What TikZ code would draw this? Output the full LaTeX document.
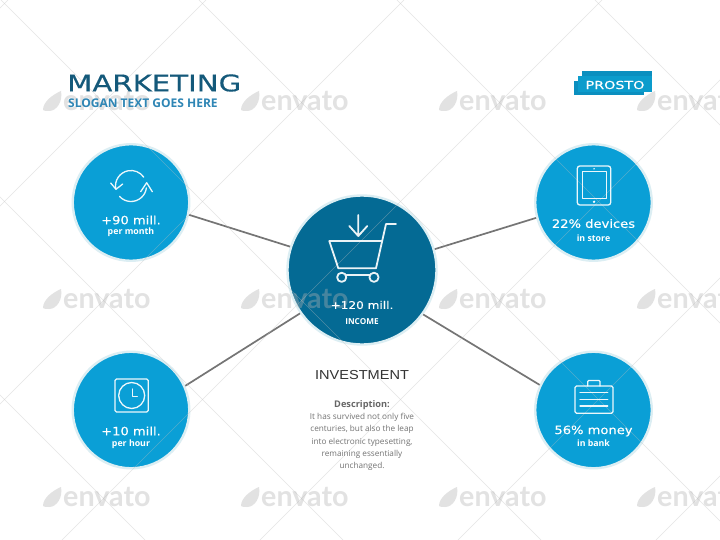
\documentclass[tikz,border=0pt]{standalone}
\usepackage{fontspec}
\setmainfont{Open Sans}
\newfontfamily\titlefont[FakeStretch=1.27,FakeBold=.4]{DejaVu Sans}
\newfontfamily\valfont[FakeStretch=1.14,FakeBold=.3]{DejaVu Sans}
\newfontfamily\badgefont[FakeStretch=1.3,FakeBold=.3]{DejaVu Sans}
\newfontfamily\invfont[FakeStretch=1.12]{Liberation Sans}
\newfontfamily\wmfont{Lato}
\definecolor{cblue}{HTML}{0A9FD6}
\definecolor{cdark}{HTML}{046A94}
\definecolor{cring}{HTML}{DCEEF3}
\definecolor{ctitle}{HTML}{14597A}
\definecolor{cslogan}{HTML}{2F86B5}
\definecolor{cline}{HTML}{757575}
\definecolor{cwm}{HTML}{B3B3B3}
\definecolor{cdiag}{HTML}{BFBFBF}
\definecolor{cband}{HTML}{0B8FBF}
\definecolor{cband2}{HTML}{0C9CCC}
\tikzset{
 x=1pt,y=-1pt,
 small/.style={draw=cring,line width=2.4pt,fill=cblue,circle,inner sep=0pt,minimum size=116.5pt},
 big/.style={draw=cring,line width=2.4pt,fill=cdark,circle,inner sep=0pt,minimum size=149pt},
 link/.style={draw=cline,line width=1.7pt},
 icon/.style={draw=white,line width=1.3pt,line join=round,line cap=round,opacity=.92},
 carticon/.style={icon,line width=1.8pt},
 val/.style={text=white,font=\valfont\fontsize{11.5}{13}\selectfont,inner sep=0pt},
 sub/.style={text=white,font=\bfseries\fontsize{8.8}{10}\selectfont,inner sep=0pt},
 wm/.style={text=cwm,font=\wmfont\bfseries\fontsize{28.7}{29}\selectfont,inner sep=0pt,anchor=west,text opacity=.38},
 diag/.style={draw=cdiag,line width=.5pt,draw opacity=.4}
}
\newcommand{\wmark}[2]{%
 \fill[cwm,fill opacity=.38] (#1+1,#2+9) .. controls (#1+1,#2+1) and (#1+10,#2-6) .. (#1+19,#2-10) .. controls (#1+21,#2) and (#1+15,#2+10) .. (#1+7,#2+10) .. controls (#1+4,#2+10) and (#1+2,#2+10) .. cycle;
 \node[wm] at (#1+21,#2) {envato};
}
\begin{document}
\begin{tikzpicture}
\useasboundingbox (0,0) rectangle (720,540);
\fill[white] (0,0) rectangle (720,540);
% circles
\node[small] (a) at (131,202.5) {};
\node[small] (b) at (593.5,202.5) {};
\node[small] (c) at (131,410) {};
\node[small] (d) at (593.5,410) {};
\node[big] (m) at (362,270) {};
\draw[link] (a.-12.6) -- (m.162.3);
\draw[link] (b.195) -- (m.16);
\draw[link] (c.24.4) -- (m.215);
\draw[link] (d.155.6) -- (m.-36.4);
% watermark diagonals
\foreach \k in {-3,...,6}{
 \draw[diag] (\k*198+1,0) -- ++(540,540);
 \draw[diag] (\k*198+8,0) -- ++(-540,540);
}
% watermarks
\foreach \wx in {42,240,438,636}{\foreach \wy in {101,299,497}{\wmark{\wx}{\wy}}}
% title
\node[anchor=west,inner sep=0pt,text=ctitle,font=\titlefont\fontsize{23}{26}\selectfont] (title) at (67,83) {MARKETING};
\node[anchor=west,inner sep=0pt,text=cslogan,font=\bfseries\fontsize{12}{14}\selectfont] (slogan) at (68,103) {SLOGAN TEXT GOES HERE};
% badge
\fill[cband] (582,71) rectangle (652,92);
\fill[cband] (574,81) rectangle (644,95);
\fill[cband2] (578,76) rectangle (652,92);
\node[text=white,font=\badgefont\fontsize{11}{13}\selectfont,inner sep=0pt] (badge) at (615,85) {PROSTO};
% centre icon
\draw[carticon] (396,224) -- (386,224) -- (376,268.3) -- (338.3,268.3) -- (329.3,241) -- (381.7,241);
\draw[carticon] (341.7,277.3) circle (4.6);
\draw[carticon] (374,277.3) circle (4.6);
\draw[carticon] (346.5,275) -- (369.5,275);
\draw[carticon] (358.3,215) -- (358.3,236) (349.3,226) -- (358.3,236) -- (367.3,226);
\node[val,font=\valfont\fontsize{10.6}{13}\selectfont] (mv) at (362,305) {+120 mill.};
\node[sub,font=\bfseries\fontsize{8.2}{10}\selectfont] (ms) at (362,322) {INCOME};
% refresh icon
\draw[icon] (131,186) ++(169:15.5) arc (169:325:15.5);
\draw[icon] (110.7,183) -- (116,189.3) -- (122.7,184);
\draw[icon] (131,186) ++(138:15.5) arc (138:7:15.5);
\draw[icon] (140.7,191.7) -- (146.7,182.7) -- (152.3,191.7);
\node[val] (av) at (131,220) {+90 mill.};
\node[sub] (as) at (131,232.7) {per month};
% tablet icon
\draw[icon,rounded corners=2.5pt] (577.3,166) rectangle (610.7,205);
\draw[icon,line width=1pt] (582,171.7) rectangle (606,199);
\fill[white] (594,168.8) circle (.8);
\fill[white] (594,201.8) circle (1.3);
\node[val] (bv) at (593.5,223.5) {22\% devices};
\node[sub] (bs) at (593.5,238) {in store};
% clock icon
\draw[icon,rounded corners=1.5pt] (115,379) rectangle (148.3,412);
\draw[icon] (131.7,395.5) circle (13);
\draw[icon] (132.7,389) -- (132.7,396.7) -- (137.3,396.7);
\node[val] (cv) at (131,431) {+10 mill.};
\node[sub] (cs) at (131,444.3) {per hour};
% briefcase icon
\draw[icon,rounded corners=1.5pt] (575,386) rectangle (613,413.3);
\draw[icon,rounded corners=1pt] (587.7,386) -- (587.7,380.5) -- (600,380.5) -- (600,386);
\draw[icon] (580,392.7) -- (607.7,392.7) (580,399.3) -- (607.7,399.3) (580,406) -- (607.7,406);
\node[val] (dv) at (593.5,431) {56\% money};
\node[sub] (ds) at (593.5,443) {in bank};
% text
\node[inner sep=0pt,text=black!80,font=\invfont\fontsize{13}{15}\selectfont] (inv) at (362,375) {INVESTMENT};
\node[inner sep=0pt,text=black!60,font=\bfseries\fontsize{9.2}{11}\selectfont] (desc) at (362,405) {Description:};
\node[inner sep=0pt,align=center,text=black!55,font=\fontsize{8.2}{12.2}\selectfont] (body) at (362,442) {It has survived not only five\\centuries, but also the leap\\into electronic typesetting,\\remaining essentially\\unchanged.};
\end{tikzpicture}
\end{document}
